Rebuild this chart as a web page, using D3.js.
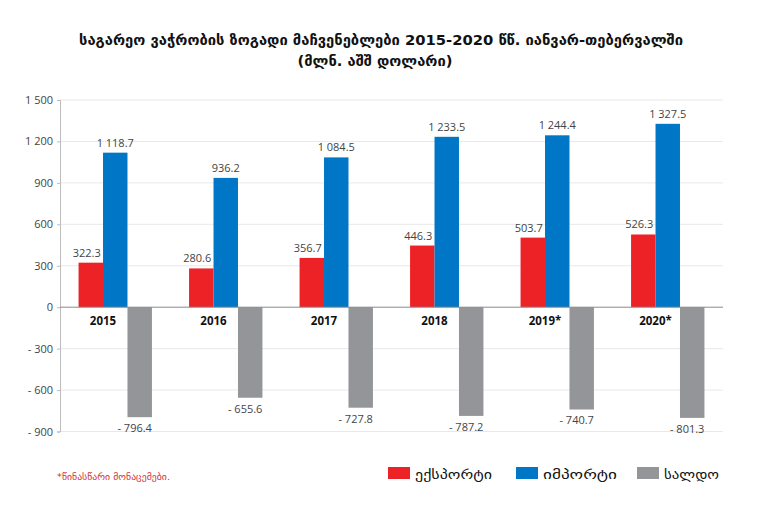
<!DOCTYPE html>
<html><head><meta charset="utf-8">
<script src="https://cdn.jsdelivr.net/npm/d3@7"></script>
<style>
body{margin:0;background:#fff;}
svg{display:block;}
</style></head>
<body>
<svg id="chart" width="759" height="529"></svg>
<script>
const years = ["2015","2016","2017","2018","2019*","2020*"];
const exportVals = [322.3, 280.6, 356.7, 446.3, 503.7, 526.3];
const importVals = [1118.7, 936.2, 1084.5, 1233.5, 1244.4, 1327.5];
const saldoVals = [-796.4, -655.6, -727.8, -787.2, -740.7, -801.3];
const seriesNames = ["ექსპორტი", "იმპორტი", "სალდო"];
const seriesColors = ["#ED2227", "#0077C6", "#939598"];
const yTicks = [-900, -600, -300, 0, 300, 600, 900, 1200, 1500];
const titleLines = ["საგარეო ვაჭრობის ზოგადი მაჩვენებლები 2015-2020 წწ. იანვარ-თებერვალში", "(მლნ. აშშ დოლარი)"];
const footnote = "*წინასწარი მონაცემები.";

(function(){
const svg = d3.select("#chart");
const leftX = 60, rightX = 723;
const y = d3.scaleLinear().domain([-900, 1500]).range([431.5, 100]);
const x0 = d3.scaleBand().domain(years).range([leftX, rightX]).paddingInner(0.336).paddingOuter(0.168);
const x1 = d3.scaleBand().domain([0,1,2]).range([0, x0.bandwidth()]);

const fmt = v => {
  const s = Math.abs(v).toFixed(1);
  const [i, d] = s.split(".");
  const ip = i.replace(/\B(?=(\d{3})+(?!\d))/g, " ");
  return (v < 0 ? "- " : "") + ip + "." + d;
};
const fmtTick = v => {
  const s = String(Math.abs(v)).replace(/\B(?=(\d{3})+(?!\d))/g, " ");
  return (v < 0 ? "- " : "") + s;
};

// gridlines
svg.append("g").selectAll("line").data(yTicks.filter(t => t !== 0)).join("line")
  .attr("x1", leftX).attr("x2", rightX)
  .attr("y1", d => y(d)).attr("y2", d => y(d))
  .attr("stroke", "#e8e8e8").attr("stroke-width", 1);

// y axis
const yAxis = svg.append("g").attr("transform", `translate(${leftX},0)`)
  .call(d3.axisLeft(y).tickValues(yTicks).tickFormat(fmtTick).tickSize(3).tickPadding(4));
yAxis.select(".domain").attr("stroke", "#bdbdbd");
yAxis.selectAll(".tick line").attr("stroke", "#bdbdbd");
yAxis.selectAll("text").attr("font-family", "Open Sans, sans-serif").attr("font-size", 11).attr("fill", "#444");

// bars
const series = [exportVals, importVals, saldoVals];
series.forEach((vals, si) => {
  svg.append("g").selectAll("rect").data(vals).join("rect")
    .attr("x", (d, i) => x0(years[i]) + x1(si))
    .attr("width", x1.bandwidth())
    .attr("y", d => y(Math.max(0, d)))
    .attr("height", d => Math.abs(y(d) - y(0)))
    .attr("fill", seriesColors[si]);
});

// zero line
svg.append("line").attr("x1", leftX).attr("x2", rightX).attr("y1", y(0)).attr("y2", y(0))
  .attr("stroke", "#8a8a8a").attr("stroke-width", 1);

// value labels
const labelFont = "Open Sans, sans-serif";
series.forEach((vals, si) => {
  svg.append("g").selectAll("text").data(vals).join("text")
    .attr("x", (d, i) => x0(years[i]) + x1(si) + x1.bandwidth()/2 + (si === 2 ? -5 : (si === 0 ? -4 : 0)))
    .attr("y", d => d >= 0 ? y(d) - 6 : y(d) + 15)
    .attr("text-anchor", "middle")
    .attr("font-family", labelFont).attr("font-size", 11).attr("fill", "#444")
    .text(d => fmt(d));
});

// year labels
svg.append("g").selectAll("text").data(years).join("text")
  .attr("x", d => x0(d) + x1.bandwidth())
  .attr("y", y(0) + 18)
  .attr("text-anchor", "middle")
  .attr("font-family", labelFont).attr("font-weight", "bold").attr("font-size", 11.5).attr("fill", "#111")
  .text(d => d);

// title
svg.append("text").attr("x", 381).attr("y", 45).attr("text-anchor", "middle")
  .attr("font-family", "DejaVu Sans Condensed, DejaVu Sans").attr("font-weight", "bold").attr("font-size", 14)
  .attr("textLength", 604).attr("lengthAdjust", "spacingAndGlyphs").attr("fill", "#111")
  .text(titleLines[0]);
svg.append("text").attr("x", 375).attr("y", 66).attr("text-anchor", "middle")
  .attr("font-family", "DejaVu Sans Condensed, DejaVu Sans").attr("font-weight", "bold").attr("font-size", 14)
  .attr("textLength", 155).attr("lengthAdjust", "spacingAndGlyphs").attr("fill", "#111")
  .text(titleLines[1]);

// footnote
svg.append("text").attr("x", 57).attr("y", 480)
  .attr("font-family", "DejaVu Sans Condensed, DejaVu Sans").attr("font-size", 9).attr("fill", "#D3343A")
  .attr("textLength", 113).attr("lengthAdjust", "spacingAndGlyphs")
  .text(footnote);

// legend
const legX = [388, 516, 637];
const legW = [77, 74, 55];
const leg = svg.append("g");
seriesNames.forEach((n, i) => {
  leg.append("rect").attr("x", legX[i]).attr("y", 467).attr("width", 22).attr("height", 12).attr("fill", seriesColors[i]);
  leg.append("text").attr("x", legX[i] + 27).attr("y", 479)
    .attr("font-family", "DejaVu Sans Condensed, DejaVu Sans").attr("font-size", 13).attr("fill", "#111")
    .attr("textLength", legW[i]).attr("lengthAdjust", "spacingAndGlyphs")
    .text(n);
});
})();
</script>
</body></html>
